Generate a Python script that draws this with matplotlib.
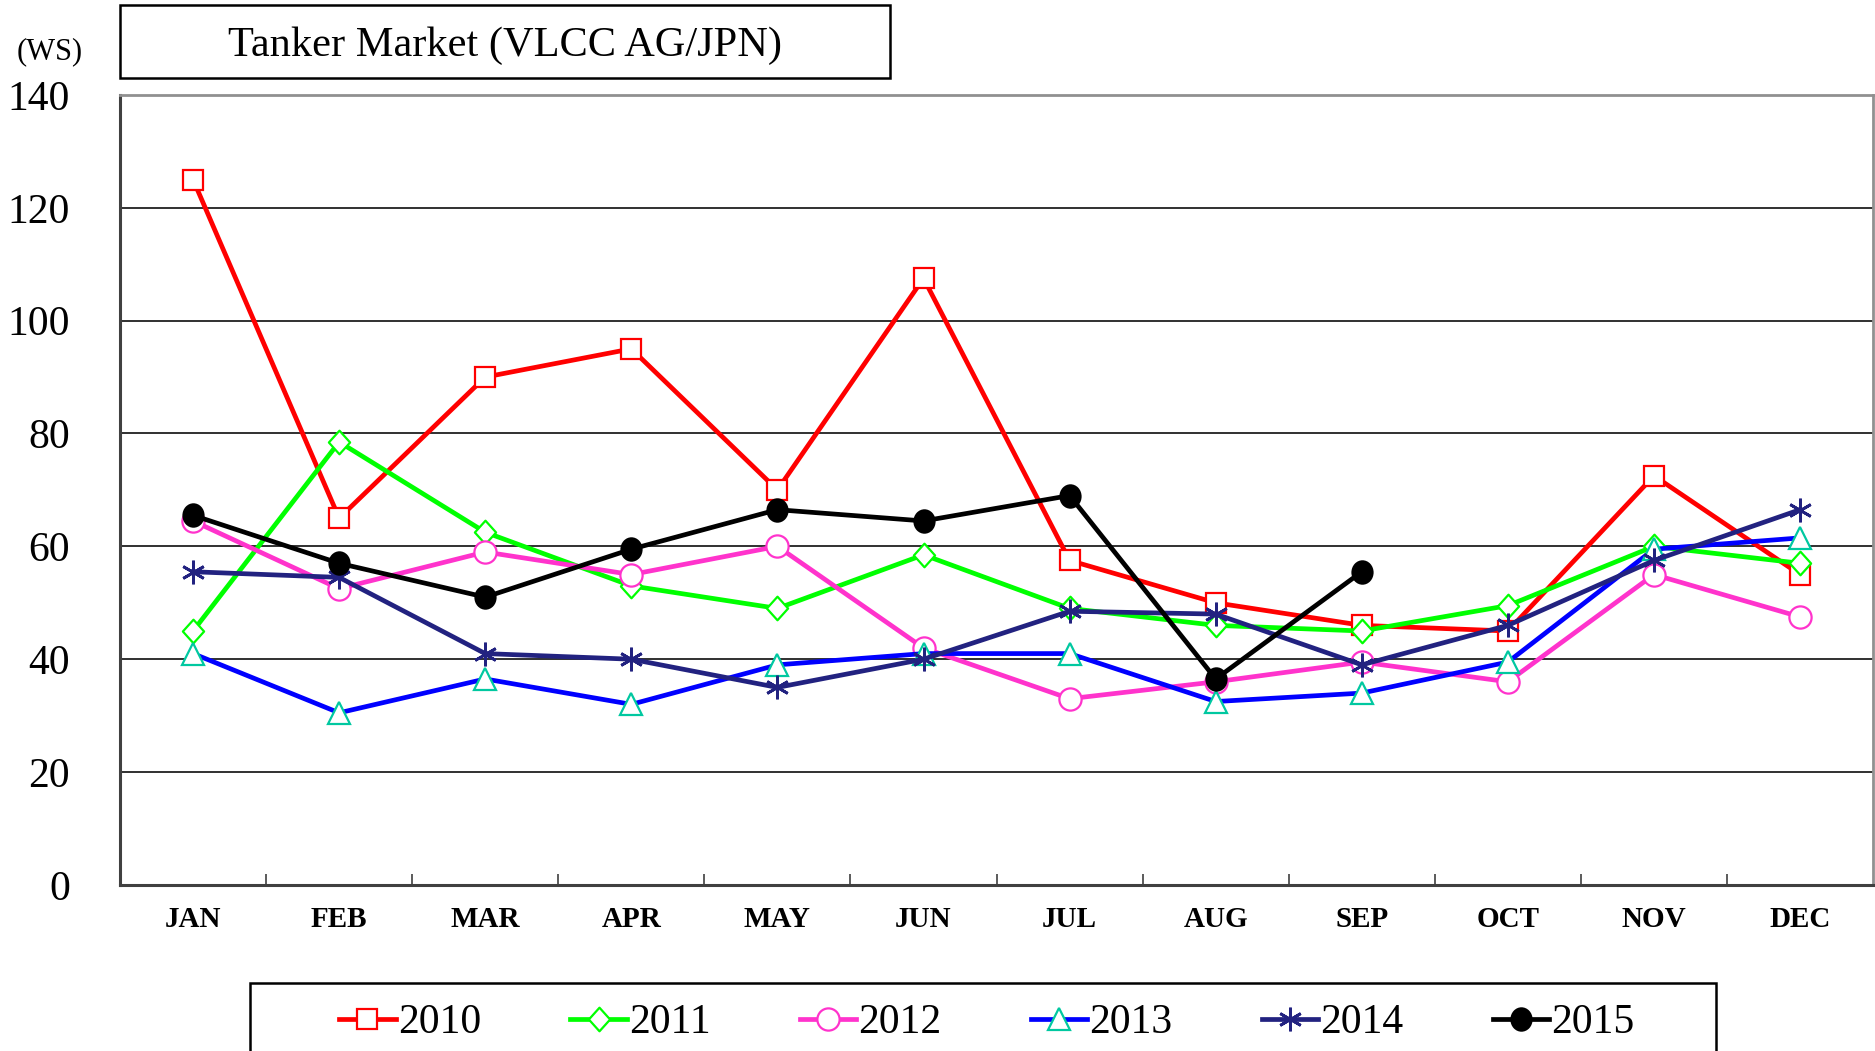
import numpy as np
import matplotlib
matplotlib.use("Agg")
import matplotlib.pyplot as plt
from matplotlib.path import Path
from matplotlib.patches import Rectangle
from matplotlib.transforms import Affine2D

###############################################################################
# Data (WS)
###############################################################################
months = ['JAN', 'FEB', 'MAR', 'APR', 'MAY', 'JUN',
          'JUL', 'AUG', 'SEP', 'OCT', 'NOV', 'DEC']
years = ['2010', '2011', '2012', '2013', '2014', '2015']

ws_2010 = [125, 65, 90, 95, 70, 107.5, 57.5, 50, 46, 45, 72.5, 55]
ws_2011 = [45, 78.5, 62.5, 53, 49, 58.5, 49, 46, 45, 49.5, 60, 57]
ws_2012 = [64.5, 52.5, 59, 55, 60, 42, 33, 36, 39.5, 36, 55, 47.5]
ws_2013 = [41, 30.5, 36.5, 32, 39, 41, 41, 32.5, 34, 39.5, 59.5, 61.5]
ws_2014 = [55.5, 54.5, 41, 40, 35, 40, 48.5, 48, 39, 46, 57.5, 66.5]
ws_2015 = [65.5, 57, 51, 59.5, 66.5, 64.5, 69, 36.5, 55.5]

yticks = [0, 20, 40, 60, 80, 100, 120, 140]
#------------------------------------------------------------------------------

###############################################################################
# Marker shapes
###############################################################################
diamond = Path([(0, 1), (0.9, 0), (0, -1), (-0.9, 0), (0, 1)],
               [Path.MOVETO, Path.LINETO, Path.LINETO, Path.LINETO, Path.CLOSEPOLY])
ellipse = Path.unit_circle().transformed(Affine2D().scale(0.9, 1.0))
#------------------------------------------------------------------------------

plt.rcParams['font.family'] = 'Liberation Serif'

fig = plt.figure(figsize=(18.75, 10.51), dpi=100)
ax = fig.add_axes([0.064, 0.158, 0.935, 0.7517])

x = np.arange(len(months))

styles = [
    (ws_2010, dict(color='#ff0000', marker='s', ms=15, mfc='white', mec='#ff0000', mew=1.6)),
    (ws_2011, dict(color='#00ff00', marker=diamond, ms=17, mfc='white', mec='#00ff00', mew=1.6)),
    (ws_2012, dict(color='#ff33cc', marker='o', ms=16, mfc='white', mec='#ff33cc', mew=1.6)),
    (ws_2013, dict(color='#0000ff', marker='^', ms=16, mfc='white', mec='#00c8a0', mew=1.6)),
    (ws_2014, dict(color='#222280', marker=(6, 2, 0), ms=17, mec='#222280', mew=2.0)),
    (ws_2015, dict(color='black', marker=ellipse, ms=16, mfc='black', mec='black', mew=1.6)),
]

handles = []
for (vals, st), yr in zip(styles, years):
    ln, = ax.plot(x[:len(vals)], vals, lw=3.4, label=yr, **st)
    handles.append(ln)

ax.set_xlim(-0.5, 11.5)
ax.set_ylim(0, 140)
ax.set_yticks(yticks)
ax.set_yticklabels([str(v) for v in yticks], fontsize=30)
ax.set_xticks(x)
ax.set_xticklabels(months, fontsize=21, fontweight='bold')
ax.set_xticks(np.arange(0.5, 11.5, 1), minor=True)
ax.tick_params(axis='x', which='major', length=0, pad=15)
ax.tick_params(axis='x', which='minor', direction='in', length=8, width=1.2, color='#404040')
ax.tick_params(axis='y', length=0, pad=36)

ax.yaxis.grid(True, color='#303030', lw=1.4)
ax.set_axisbelow(True)
for side in ['left', 'bottom']:
    ax.spines[side].set_color('#404040')
    ax.spines[side].set_linewidth(2.2)
for side in ['top', 'right']:
    ax.spines[side].set_color('#909090')
    ax.spines[side].set_linewidth(2.0)

# title box
fig.patches.append(Rectangle((120/1875, 1-78/1051), 770/1875, 73/1051,
                             transform=fig.transFigure, fill=False,
                             edgecolor='black', lw=1.8))
fig.text(505/1875, 1-46/1051, 'Tanker Market (VLCC AG/JPN)', fontsize=30.5,
         ha='center', va='center')
fig.text(50/1875, 1-52/1051, '(WS)', fontsize=22, ha='center', va='center')

# legend box (bottom cut off like the reference)
fig.patches.append(Rectangle((250/1875, -0.05), 1466/1875, 0.05 + 1-983/1051,
                             transform=fig.transFigure, fill=False,
                             edgecolor='black', lw=1.8))
leg = fig.legend(handles=handles, loc='center', ncol=6,
                 bbox_to_anchor=(987/1875, 1-1023/1051), frameon=False,
                 fontsize=30, handlelength=1.35, handletextpad=0.05,
                 columnspacing=2.15)

fig.savefig('out.png', dpi=100)
